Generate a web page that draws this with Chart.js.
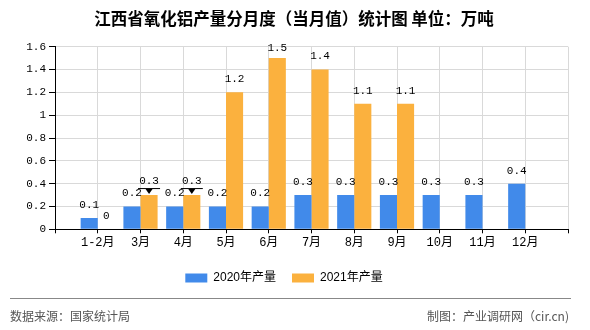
<!DOCTYPE html>
<html>
<head>
<meta charset="utf-8">
<script src="https://cdn.jsdelivr.net/npm/chart.js@4.4.1/dist/chart.umd.min.js"></script>
<style>
  html, body { margin: 0; padding: 0; background: #fff; }
  #wrap { position: relative; width: 590px; height: 330px; overflow: hidden; }
  canvas { position: absolute; left: 0; top: 0; }
  #title { position: absolute; left: 0; width: 588px; top: 8px; text-align: center; font: bold 16.5px 'Noto Sans CJK SC', sans-serif; line-height: 20px; color: #000; white-space: nowrap; }
  .foot { position: absolute; top: 308px; font: 12px 'Noto Sans CJK SC', sans-serif; color: #555; line-height: 16px; white-space: nowrap; }
  #sep { position: absolute; left: 10px; top: 298px; width: 561px; height: 1px; background: #888; }
</style>
</head>
<body>
<div id="wrap">
  <canvas id="c" width="590" height="330"></canvas>
  <div id="title"></div>
  <div id="sep"></div>
  <div class="foot" style="left:10px;">数据来源：国家统计局</div>
  <div class="foot" style="right:21px;">制图：产业调研网（cir.cn)</div>
</div>
<script>
const titleText = '江西省氧化铝产量分月度（当月值）统计图 单位：万吨';
const categories = ['1-2月', '3月', '4月', '5月', '6月', '7月', '8月', '9月', '10月', '11月', '12月'];
const seriesNames = ['2020年产量', '2021年产量'];
const values2020 = [0.1, 0.2, 0.2, 0.2, 0.2, 0.3, 0.3, 0.3, 0.3, 0.3, 0.4];
const values2021 = [0, 0.3, 0.3, 1.2, 1.5, 1.4, 1.1, 1.1, null, null, null];
const markedMonths2021 = ['3月', '4月'];
const yTicks = [0, 0.2, 0.4, 0.6, 0.8, 1, 1.2, 1.4, 1.6];

document.getElementById('title').textContent = titleText;

const BLUE = '#418AEA';
const ORANGE = '#FBB13E';
const MONO = "'Liberation Mono', 'Noto Sans CJK SC', monospace";

// pad categories with an empty slot on each side (axis edges)
const labels = [''].concat(categories, ['']);
const pad = arr => [null].concat(arr, [null]);

const dataLabelPlugin = {
  id: 'dataLabels',
  afterDatasetsDraw(chart) {
    const ctx = chart.ctx;
    const area = chart.chartArea;
    ctx.save();
    ctx.font = '11px ' + MONO;
    ctx.fillStyle = '#000';
    ctx.textAlign = 'center';
    ctx.textBaseline = 'middle';
    chart.data.datasets.forEach((ds, di) => {
      const meta = chart.getDatasetMeta(di);
      meta.data.forEach((el, i) => {
        const v = ds.data[i];
        if (v === null || v === undefined) return;
        const marked = di === 1 && markedMonths2021.includes(labels[i]);
        if (marked) {
          const ly = el.y - 7;
          ctx.strokeStyle = '#000';
          ctx.lineWidth = 1;
          ctx.beginPath();
          ctx.moveTo(el.x - 11, ly + 0.5);
          ctx.lineTo(el.x + 11, ly + 0.5);
          ctx.stroke();
          ctx.beginPath();
          ctx.moveTo(el.x - 3.5, ly + 1);
          ctx.lineTo(el.x + 3.5, ly + 1);
          ctx.lineTo(el.x, ly + 6);
          ctx.closePath();
          ctx.fill();
        }
        let y = el.y - (marked ? 14 : 13);
        y = Math.max(y, area.top + 1.6);
        ctx.fillText(String(v), el.x, y);
      });
    });
    ctx.restore();
  }
};

new Chart(document.getElementById('c'), {
  type: 'bar',
  data: {
    labels: labels,
    datasets: [
      { label: seriesNames[0], data: pad(values2020), backgroundColor: BLUE, categoryPercentage: 0.8, barPercentage: 1.0 },
      { label: seriesNames[1], data: pad(values2021), backgroundColor: ORANGE, categoryPercentage: 0.8, barPercentage: 1.0 }
    ]
  },
  options: {
    responsive: false,
    animation: false,
    devicePixelRatio: 1,
    layout: { padding: { left: 0, right: 22, top: 46.7, bottom: 36 } },
    plugins: {
      title: { display: false },
      legend: {
        position: 'bottom',
        labels: {
          boxWidth: 22, boxHeight: 9, padding: 16, color: '#000',
          font: { size: 12, family: "'Liberation Sans', 'Noto Sans CJK SC', sans-serif" }
        }
      },
      tooltip: { enabled: false }
    },
    scales: {
      x: {
        offset: false,
        grid: { color: '#d9d9d9', tickColor: '#000', tickLength: 4, offset: false },
        border: { color: '#000', width: 1 },
        ticks: { color: '#000', font: { size: 12, family: MONO }, padding: 2, autoSkip: false, maxRotation: 0 },
        afterFit(s) { s.height = 26.7; }
      },
      y: {
        min: 0, max: 1.6,
        afterBuildTicks(s) { s.ticks = yTicks.map(v => ({ value: v })); },
        grid: { color: '#d9d9d9', tickColor: '#000', tickLength: 6 },
        border: { color: '#000', width: 1 },
        ticks: { color: '#000', font: { size: 11, family: MONO }, padding: 3, callback: v => String(+v.toFixed(1)) },
        afterFit(s) { s.width = 55; }
      }
    }
  },
  plugins: [dataLabelPlugin]
});
</script>
</body>
</html>
